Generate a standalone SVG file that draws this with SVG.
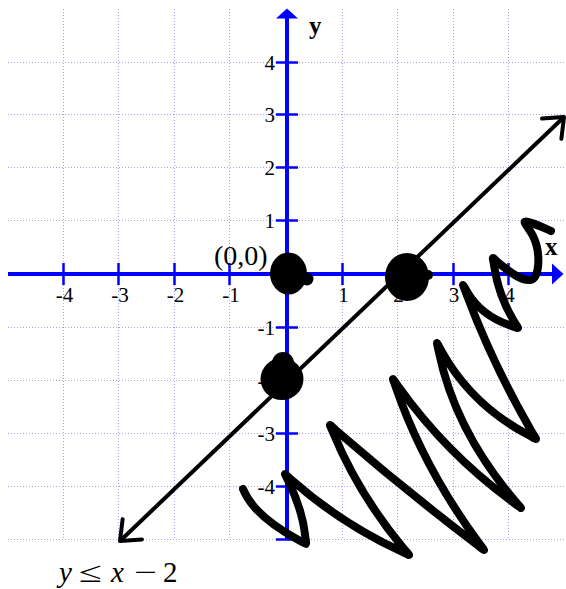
<svg xmlns="http://www.w3.org/2000/svg" width="566" height="589" viewBox="0 0 566 589">
<defs>
<style>
.grid{stroke:#a3a3ff;stroke-width:1;stroke-dasharray:1 2;fill:none}
.axis{stroke:#0000ff;stroke-width:4;fill:none}
.tick{stroke:#0000ff;stroke-width:2.5}
.arrowhead{fill:#0000ff}
.lbl{font-family:"Liberation Serif","Times New Roman",serif;font-size:21px;fill:#000}
.xl{text-anchor:middle}
.yl{text-anchor:end}
.axname{font-family:"Liberation Serif","Times New Roman",serif;font-size:25px;font-weight:bold;fill:#000}
.math{font-family:"Liberation Serif","Times New Roman",serif;font-size:29px;fill:#000}
.ink{fill:#000}
.scrib{fill:none;stroke:#000;stroke-width:8;stroke-linecap:round;stroke-linejoin:round}
</style>
<marker id="arr" markerUnits="userSpaceOnUse" orient="auto-start-reverse" overflow="visible" markerWidth="40" markerHeight="40" refX="0" refY="0">
<path d="M-17,-14 L0,0 L-17,14" fill="none" stroke="#000" stroke-width="4" stroke-linecap="round" stroke-linejoin="round"/>
</marker>
</defs>
<rect width="566" height="589" fill="#fff"/>

<g id="grid" class="grid">
<path d="M63.5,9V539M118.5,9V539M174.5,9V539M229.5,9V539M342.5,9V539M397.5,9V539M453.5,9V539M508.5,9V539"/>
<path d="M8,62.5H564M8,114.5H564M8,167.5H564M8,220.5H564M8,327.5H564M8,380.5H564M8,433.5H564M8,486.5H564M8,539.5H564"/>
</g>

<g id="axes">
<line class="axis" x1="287" y1="539" x2="287" y2="17"/>
<polygon class="arrowhead" points="287,8.5 276,18.5 298,18.5"/>
<line class="axis" x1="8" y1="274" x2="553" y2="274"/>
<polygon class="arrowhead" points="563.5,274 552,263.5 552,284.5"/>
<path class="tick" d="M63.5,263V285M118.5,263V285M174.5,263V285M229.5,263V285M342.5,263V285M397.5,263V285M453.5,263V285M508.5,263V285"/>
<path class="tick" d="M276,62.5H298M276,114.5H298M276,167.5H298M276,220.5H298M276,327.5H298M276,380.5H298M276,433.5H298M276,486.5H298M276,539.5H298"/>
</g>

<g id="tick-labels" class="lbl">
<text class="xl" x="64.5" y="302">-4</text>
<text class="xl" x="120" y="302">-3</text>
<text class="xl" x="175.5" y="302">-2</text>
<text class="xl" x="231" y="302">-1</text>
<text class="xl" x="343.5" y="302">1</text>
<text class="xl" x="398.5" y="302">2</text>
<text class="xl" x="454" y="302">3</text>
<text class="xl" x="509.5" y="302">4</text>
<text class="yl" x="275" y="70">4</text>
<text class="yl" x="275" y="122">3</text>
<text class="yl" x="275" y="175">2</text>
<text class="yl" x="275" y="228">1</text>
<text class="yl" x="275" y="335">-1</text>
<text class="yl" x="275" y="388">-2</text>
<text class="yl" x="275" y="441">-3</text>
<text class="yl" x="275" y="494">-4</text>
</g>

<g id="axis-names">
<text class="axname" x="545" y="255">x</text>
<text class="axname" x="309" y="34">y</text>
</g>

<g id="connectors">
<line x1="120" y1="541" x2="564" y2="117" stroke="#000" stroke-width="4" marker-start="url(#arr)" marker-end="url(#arr)"/>
</g>

<g id="shading-scribble">
<path class="scrib" d="M243,489 Q254,516 298.1,539.7 C308.7,545.4 306.4,547 305.1,535.1 Q302.5,511 288.9,482.1 C283.8,471.3 282.7,472.1 291.7,480 Q341,523.5 400.8,551.2 C411.7,556.2 411,557.3 403.3,548.1 Q358.5,494 333.4,433.3 C328.8,422.2 327.7,423 336.8,430.9 Q405,490 476.8,544.6 C486.4,551.9 485.8,552.4 478.7,542.7 Q423.5,467.5 395.9,387.5 C392,376.1 391.2,376.5 398.2,386.3 Q447,454.5 513.7,502.7 C523.4,509.7 523,510.3 515.2,501.2 Q455,430.5 438.8,351.8 C436.4,340 435.6,340.4 441.4,350.9 Q471.5,405 528,434.8 C538.6,440.4 537.5,441.6 531.5,431.2 Q492.5,364 466.2,293.4 C462,282.2 461.5,282.4 467.7,292.7 Q481.5,315.5 509.5,325.1 C520.9,329 519.5,330.6 513.4,320.3 Q498.5,295 494.3,266.9 C492.5,255 490.7,256.1 499.8,263.9 C512,274 522,281 530,280 C540,280 541,252 533,236 C528,226 520,220 528,222 C536,224 544,228 551,231"/>
</g>

<g id="pt-origin" class="ink">
<ellipse cx="288.5" cy="273.5" rx="18.5" ry="21"/>
<circle cx="307" cy="279" r="6.5"/>
</g>
<g id="pt-x-intercept" class="ink">
<ellipse cx="407" cy="277" rx="22" ry="24"/>
<circle cx="428" cy="275" r="5"/>
</g>
<g id="pt-y-intercept" class="ink">
<ellipse cx="282" cy="379" rx="21.5" ry="21"/>
<circle cx="283" cy="363" r="11"/>
</g>

<g id="label-origin">
<text class="math" style="font-size:28px" x="214" y="265">(0,0)</text>
</g>

<g id="label-inequality" class="math">
<text x="59" y="582" font-style="italic">y</text>
<text x="79" y="582" textLength="23" lengthAdjust="spacingAndGlyphs">≤</text>
<text x="111" y="582" font-style="italic">x</text>
<text x="134" y="582" textLength="23" lengthAdjust="spacingAndGlyphs">−</text>
<text x="163" y="582">2</text>
</g>
</svg>
